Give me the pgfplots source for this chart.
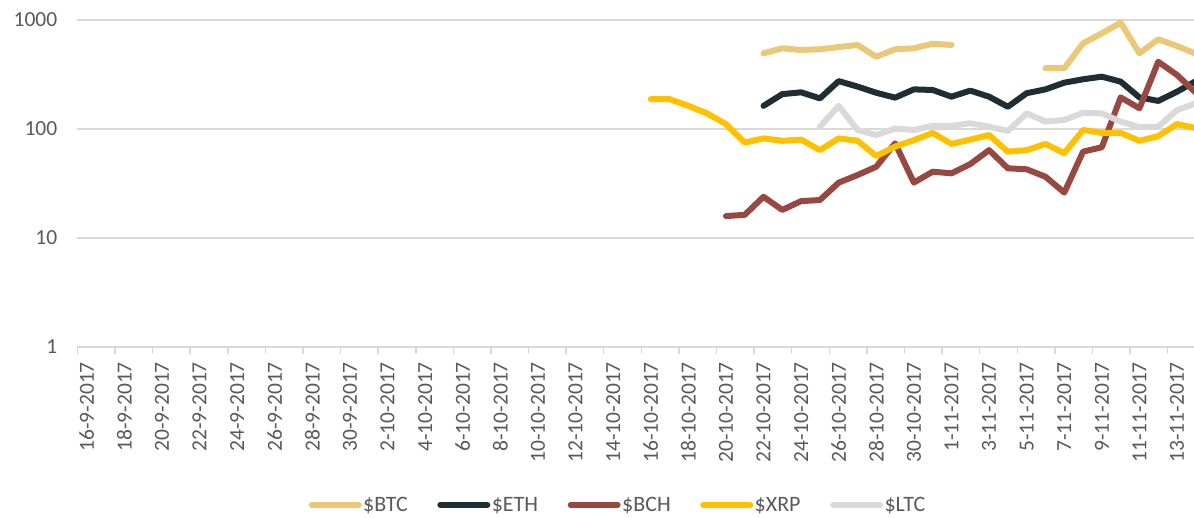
\documentclass[border=0pt]{standalone}
\usepackage{pgfplots}
\usepackage{pgfplotstable}
\usepackage{fontspec}
\setmainfont{Carlito}
\pgfplotsset{compat=1.18}

\definecolor{btc}{HTML}{EBC878}
\definecolor{eth}{HTML}{1F2E33}
\definecolor{bch}{HTML}{964841}
\definecolor{xrp}{HTML}{FFC000}
\definecolor{ltc}{HTML}{D9D9D9}
\definecolor{gridc}{HTML}{D9D9D9}
\definecolor{txt}{HTML}{595959}

% day 0 = 16-9-2017
\pgfplotstableread{
day btc eth bch xrp ltc
30 nan nan nan 188 nan
31 nan nan nan 188 nan
32 nan nan nan 163 nan
33 nan nan nan 139 nan
34 nan nan 15.9 111 nan
35 nan nan 16.3 75 nan
36 495 163 23.9 82 nan
37 550 209 18.1 78 nan
38 531 217 21.8 80 nan
39 539 191 22.3 64 105
40 565 275 32.2 82 163
41 590 245 37.8 78 98
42 460 215 45.1 56.5 88
43 539 194 74 69 101
44 550 231 32.2 79 98
45 606 228 40.6 92 107
46 590 198 39.2 73 107
47 nan 225 47.7 80 113
48 nan 198 64 88 105
49 nan 160 43.6 62 96
50 nan 213 42.7 64 139
51 361 231 36.5 73 117
52 361 266 26.1 60 121
53 611 286 62 98 141
54 755 302 68 92 139
55 945 272 195 92 117
56 495 195 155 78 104
57 665 181 414 86 105
58 577 220 313 111 149
59 490 275 215 102 172
}\prices

\begin{document}
\begin{tikzpicture}
\useasboundingbox (0,0) rectangle (1194pt,517pt);
\begin{axis}[
  at={(77.4pt,170pt)}, anchor=south west,
  scale only axis, width=1116.6pt, height=327pt,
  xmin=-0.5, xmax=58.9,
  ymode=log, ymin=1, ymax=1000,
  ytick={1,10,100,1000}, yticklabels={1,10,100,1000},
  yminorticks=false,
  xtick={0,2,...,58},
  xticklabels={16-9-2017,18-9-2017,20-9-2017,22-9-2017,24-9-2017,26-9-2017,28-9-2017,30-9-2017,
    2-10-2017,4-10-2017,6-10-2017,8-10-2017,10-10-2017,12-10-2017,14-10-2017,16-10-2017,18-10-2017,
    20-10-2017,22-10-2017,24-10-2017,26-10-2017,28-10-2017,30-10-2017,
    1-11-2017,3-11-2017,5-11-2017,7-11-2017,9-11-2017,11-11-2017,13-11-2017},
  minor xtick={-0.5,1.5,...,57.5},
  major tick length=0pt, minor tick length=7pt, tick align=outside,
  minor tick style={draw=gridc, line width=1.5pt},
  axis x line*=bottom, axis y line*=left,
  x axis line style={draw=gridc, line width=1.8pt, -},
  y axis line style={draw=none},
  ymajorgrids, grid style={draw=gridc, line width=1.8pt},
  ticklabel style={font=\fontsize{21.5}{24}\selectfont, text=txt, inner sep=0pt},
  xticklabel style={rotate=90, anchor=east},
  xticklabel shift=15pt,
  yticklabel shift=20pt,
  unbounded coords=jump,
  every axis plot/.append style={line width=6pt, line join=round, line cap=round},
  legend columns=5,
  legend style={at={(0.484,-0.483)}, anchor=center, draw=none, fill=none,
    font=\fontsize{22}{24}\selectfont, text=txt,
    /tikz/every even column/.append style={column sep=28pt},
    nodes={inner sep=1.5pt}},
  legend image code/.code={\draw[line width=6pt, line cap=round] (0pt,0pt) -- (47pt,0pt);},
]
\addplot[btc] table[x=day, y=btc] {\prices};
\addlegendentry{\$BTC}
\addplot[eth] table[x=day, y=eth] {\prices};
\addlegendentry{\$ETH}
\addplot[bch] table[x=day, y=bch] {\prices};
\addlegendentry{\$BCH}
\addplot[xrp] table[x=day, y=xrp] {\prices};
\addlegendentry{\$XRP}
\addplot[ltc] table[x=day, y=ltc] {\prices};
\addlegendentry{\$LTC}
\end{axis}
\end{tikzpicture}
\end{document}
